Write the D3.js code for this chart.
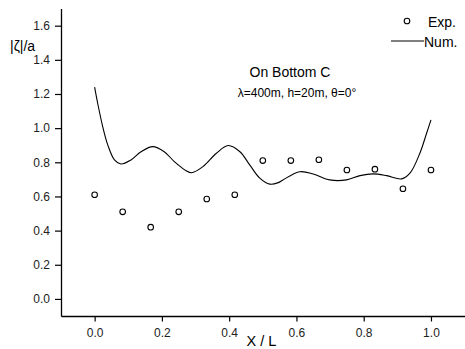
<!DOCTYPE html>
<html><head><meta charset="utf-8">
<script src="https://cdn.jsdelivr.net/npm/d3@7"></script>
<style>body{margin:0;background:#fff}svg{display:block;font-family:Arial,"Liberation Sans",sans-serif}</style>
</head><body>
<script>
const expX = [0,1/12,2/12,3/12,4/12,5/12,6/12,7/12,8/12,9/12,10/12,11/12,1];
const expY = [0.61,0.51,0.42,0.51,0.585,0.61,0.81,0.81,0.815,0.755,0.76,0.645,0.755];
const numX = [0,0.009,0.024,0.039,0.059,0.078,0.108,0.138,0.173,0.207,0.237,0.272,0.288,0.322,0.362,0.397,0.432,0.461,0.491,0.521,0.546,0.560,0.610,0.650,0.699,0.749,0.789,0.828,0.868,0.913,0.9375,0.967,0.987,1.0];
const numY = [1.24,1.146,1.009,0.902,0.814,0.790,0.814,0.862,0.892,0.862,0.804,0.751,0.739,0.775,0.853,0.898,0.862,0.785,0.707,0.672,0.681,0.697,0.745,0.732,0.697,0.697,0.722,0.732,0.722,0.703,0.736,0.853,0.970,1.048];
const xTicks = [0,0.2,0.4,0.6,0.8,1.0];
const yTicks = [0,0.2,0.4,0.6,0.8,1.0,1.2,1.4,1.6];

const W=465,H=349;
const FONT="Arial, 'Liberation Sans', sans-serif";
const svg=d3.select("body").append("svg").attr("width",W).attr("height",H);
const x=d3.scaleLinear().domain([-0.1,1.1]).range([61,464.6]);
const y=d3.scaleLinear().domain([-0.1,1.7]).range([316,8.6]);

const xMinor=d3.range(-0.1,1.1001,0.1).map(v=>+v.toFixed(2));
const yMinor=d3.range(-0.1,1.7001,0.1).map(v=>+v.toFixed(2));

const gx=svg.append("g").attr("transform",`translate(0,${y(-0.1)})`);
gx.call(d3.axisBottom(x).tickValues(xMinor).tickSize(3).tickSizeOuter(0).tickFormat(""));
gx.call(d3.axisBottom(x).tickValues(xTicks).tickSize(5.5).tickSizeOuter(0).tickPadding(7).tickFormat(d3.format(".1f")));
gx.selectAll(".domain").attr("stroke-width",1.3);
gx.selectAll("text").attr("font-size",12).attr("font-family",FONT).attr("fill","#222");
gx.selectAll("line").attr("stroke-width",1.2);

const gy=svg.append("g").attr("transform",`translate(${x(-0.1)},0)`);
gy.call(d3.axisLeft(y).tickValues(yMinor).tickSize(3).tickSizeOuter(0).tickFormat(""));
gy.call(d3.axisLeft(y).tickValues(yTicks).tickSize(6).tickSizeOuter(0).tickPadding(5).tickFormat(d3.format(".1f")));
gy.selectAll(".domain").attr("stroke-width",1.3);
gy.selectAll("text").attr("font-size",12).attr("font-family",FONT).attr("fill","#222");
gy.selectAll("line").attr("stroke-width",1.2);

// labels
svg.append("text").attr("x",261.5).attr("y",346).attr("text-anchor","middle").attr("font-size",14.5).text("X / L");
svg.append("text").attr("x",10).attr("y",51).attr("font-size",14).text("|ζ|/a");
svg.append("text").attr("x",290).attr("y",77).attr("text-anchor","middle").attr("font-size",14).text("On Bottom C");
svg.append("text").attr("x",297).attr("y",97).attr("text-anchor","middle").attr("font-size",12).text("λ=400m, h=20m, θ=0°");

// line
const numData=numX.map((v,i)=>[v,numY[i]]);
svg.append("path").datum(numData).attr("fill","none").attr("stroke","#000").attr("stroke-width",1.1)
  .attr("d",d3.line().x(d=>x(d[0])).y(d=>y(d[1])).curve(d3.curveCatmullRom));

// points
svg.selectAll("circle.exp").data(expX.map((v,i)=>[v,expY[i]])).enter().append("circle")
  .attr("cx",d=>x(d[0])).attr("cy",d=>y(d[1])).attr("r",2.8).attr("fill","none").attr("stroke","#000").attr("stroke-width",1.1);

// legend
svg.append("circle").attr("cx",407).attr("cy",21).attr("r",2.8).attr("fill","none").attr("stroke","#000").attr("stroke-width",1.1);
svg.append("text").attr("x",428).attr("y",27).attr("font-size",14).text("Exp.");
svg.append("line").attr("x1",391).attr("x2",424).attr("y1",41).attr("y2",41).attr("stroke","#000").attr("stroke-width",1.1);
svg.append("text").attr("x",424).attr("y",47).attr("font-size",14).text("Num.");
</script>
</body></html>
